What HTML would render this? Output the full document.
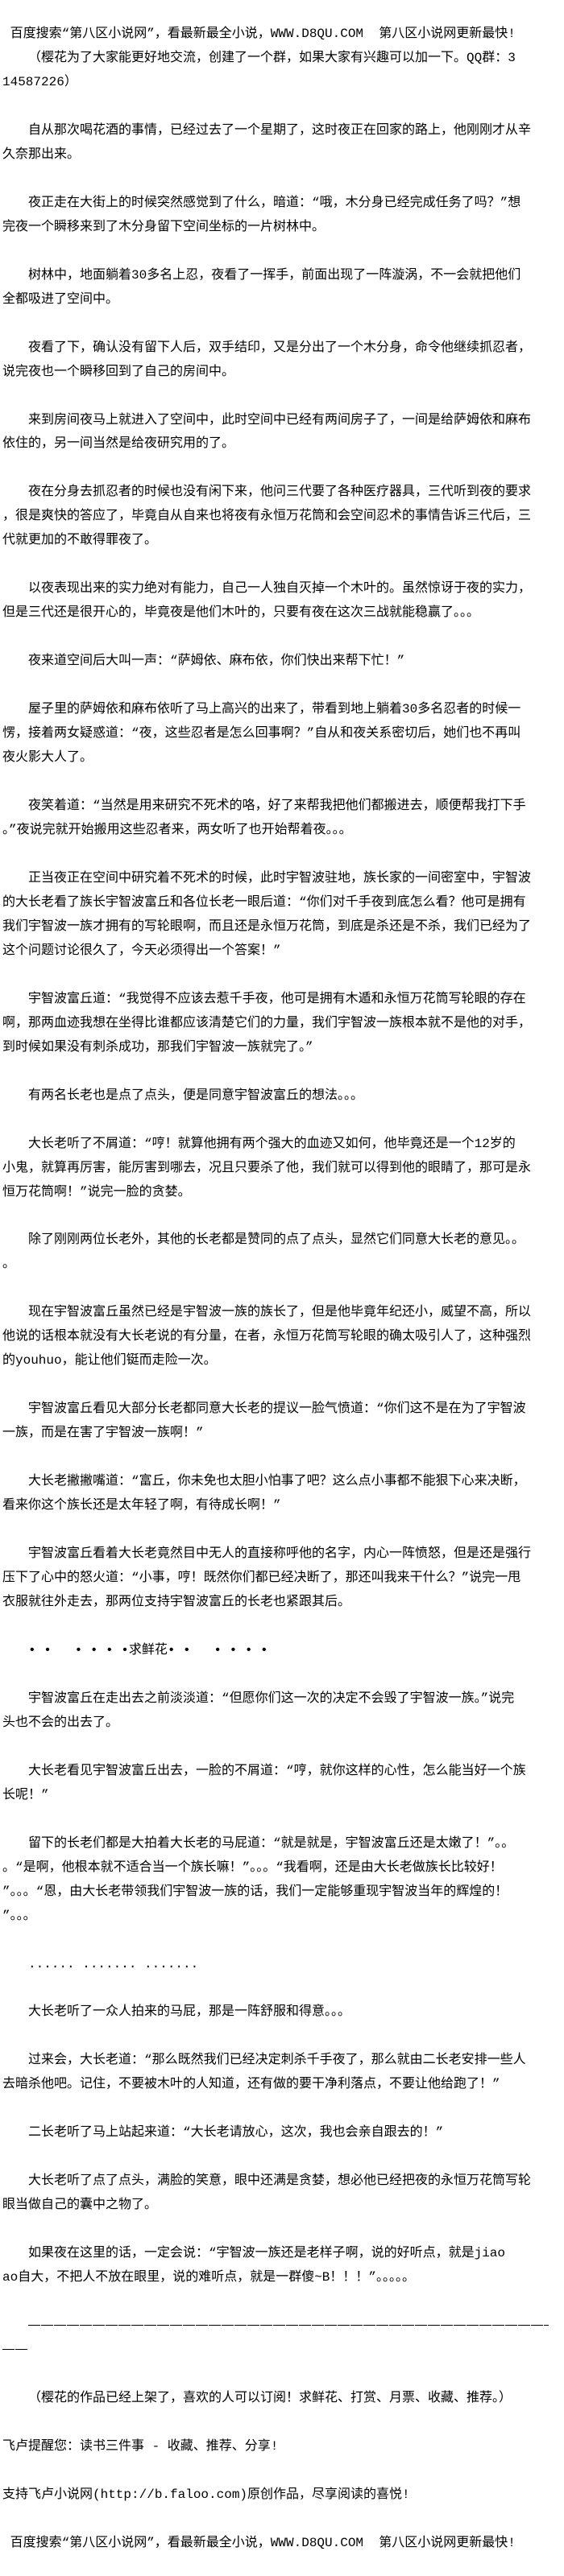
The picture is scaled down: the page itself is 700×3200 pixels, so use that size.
<!DOCTYPE html>
<html><head><meta charset="utf-8">
<style>
html,body{margin:0;padding:0;background:#fff;}
body{width:700px;height:3200px;overflow:hidden;}
#t{position:absolute;left:3px;top:28px;font-family:"Liberation Mono","Noto Sans CJK SC",monospace;font-size:16px;line-height:29.97px;color:#000;white-space:nowrap;}
.i{padding-left:32px;}
.d{display:inline-block;width:646px;height:1px;vertical-align:middle;background:repeating-linear-gradient(90deg,#000 0 15px,transparent 15px 16px);}
.d2{display:inline-block;width:32px;height:1px;vertical-align:middle;background:repeating-linear-gradient(90deg,#000 0 15px,transparent 15px 16px);}
</style></head><body>
<div id="t">
<div>&nbsp;百度搜索“第八区小说网”，看最新最全小说，WWW.D8QU.COM&nbsp;&nbsp;第八区小说网更新最快!</div>
<div class="i">（樱花为了大家能更好地交流，创建了一个群，如果大家有兴趣可以加一下。QQ群：3</div>
<div>14587226）</div>
<div>&nbsp;</div>
<div class="i">自从那次喝花酒的事情，已经过去了一个星期了，这时夜正在回家的路上，他刚刚才从辛</div>
<div>久奈那出来。</div>
<div>&nbsp;</div>
<div class="i">夜正走在大街上的时候突然感觉到了什么，暗道：“哦，木分身已经完成任务了吗？”想</div>
<div>完夜一个瞬移来到了木分身留下空间坐标的一片树林中。</div>
<div>&nbsp;</div>
<div class="i">树林中，地面躺着30多名上忍，夜看了一挥手，前面出现了一阵漩涡，不一会就把他们</div>
<div>全都吸进了空间中。</div>
<div>&nbsp;</div>
<div class="i">夜看了下，确认没有留下人后，双手结印，又是分出了一个木分身，命令他继续抓忍者，</div>
<div>说完夜也一个瞬移回到了自己的房间中。</div>
<div>&nbsp;</div>
<div class="i">来到房间夜马上就进入了空间中，此时空间中已经有两间房子了，一间是给萨姆依和麻布</div>
<div>依住的，另一间当然是给夜研究用的了。</div>
<div>&nbsp;</div>
<div class="i">夜在分身去抓忍者的时候也没有闲下来，他问三代要了各种医疗器具，三代听到夜的要求</div>
<div>，很是爽快的答应了，毕竟自从自来也将夜有永恒万花筒和会空间忍术的事情告诉三代后，三</div>
<div>代就更加的不敢得罪夜了。</div>
<div>&nbsp;</div>
<div class="i">以夜表现出来的实力绝对有能力，自己一人独自灭掉一个木叶的。虽然惊讶于夜的实力，</div>
<div>但是三代还是很开心的，毕竟夜是他们木叶的，只要有夜在这次三战就能稳赢了。。。</div>
<div>&nbsp;</div>
<div class="i">夜来道空间后大叫一声：“萨姆依、麻布依，你们快出来帮下忙！”</div>
<div>&nbsp;</div>
<div class="i">屋子里的萨姆依和麻布依听了马上高兴的出来了，带看到地上躺着30多名忍者的时候一</div>
<div>愣，接着两女疑惑道：“夜，这些忍者是怎么回事啊？”自从和夜关系密切后，她们也不再叫</div>
<div>夜火影大人了。</div>
<div>&nbsp;</div>
<div class="i">夜笑着道：“当然是用来研究不死术的咯，好了来帮我把他们都搬进去，顺便帮我打下手</div>
<div>。”夜说完就开始搬用这些忍者来，两女听了也开始帮着夜。。。</div>
<div>&nbsp;</div>
<div class="i">正当夜正在空间中研究着不死术的时候，此时宇智波驻地，族长家的一间密室中，宇智波</div>
<div>的大长老看了族长宇智波富丘和各位长老一眼后道：“你们对千手夜到底怎么看？他可是拥有</div>
<div>我们宇智波一族才拥有的写轮眼啊，而且还是永恒万花筒，到底是杀还是不杀，我们已经为了</div>
<div>这个问题讨论很久了，今天必须得出一个答案！”</div>
<div>&nbsp;</div>
<div class="i">宇智波富丘道：“我觉得不应该去惹千手夜，他可是拥有木遁和永恒万花筒写轮眼的存在</div>
<div>啊，那两血迹我想在坐得比谁都应该清楚它们的力量，我们宇智波一族根本就不是他的对手，</div>
<div>到时候如果没有刺杀成功，那我们宇智波一族就完了。”</div>
<div>&nbsp;</div>
<div class="i">有两名长老也是点了点头，便是同意宇智波富丘的想法。。。</div>
<div>&nbsp;</div>
<div class="i">大长老听了不屑道：“哼！就算他拥有两个强大的血迹又如何，他毕竟还是一个12岁的</div>
<div>小鬼，就算再厉害，能厉害到哪去，况且只要杀了他，我们就可以得到他的眼睛了，那可是永</div>
<div>恒万花筒啊！”说完一脸的贪婪。</div>
<div>&nbsp;</div>
<div class="i">除了刚刚两位长老外，其他的长老都是赞同的点了点头，显然它们同意大长老的意见。。</div>
<div>。</div>
<div>&nbsp;</div>
<div class="i">现在宇智波富丘虽然已经是宇智波一族的族长了，但是他毕竟年纪还小，威望不高，所以</div>
<div>他说的话根本就没有大长老说的有分量，在者，永恒万花筒写轮眼的确太吸引人了，这种强烈</div>
<div>的youhuo，能让他们铤而走险一次。</div>
<div>&nbsp;</div>
<div class="i">宇智波富丘看见大部分长老都同意大长老的提议一脸气愤道：“你们这不是在为了宇智波</div>
<div>一族，而是在害了宇智波一族啊！”</div>
<div>&nbsp;</div>
<div class="i">大长老撇撇嘴道：“富丘，你未免也太胆小怕事了吧？这么点小事都不能狠下心来决断，</div>
<div>看来你这个族长还是太年轻了啊，有待成长啊！”</div>
<div>&nbsp;</div>
<div class="i">宇智波富丘看着大长老竟然目中无人的直接称呼他的名字，内心一阵愤怒，但是还是强行</div>
<div>压下了心中的怒火道：“小事，哼！既然你们都已经决断了，那还叫我来干什么？”说完一甩</div>
<div>衣服就往外走去，那两位支持宇智波富丘的长老也紧跟其后。</div>
<div>&nbsp;</div>
<div class="i">•&nbsp;•&nbsp;&nbsp;&nbsp;•&nbsp;•&nbsp;•&nbsp;•求鲜花•&nbsp;•&nbsp;&nbsp;&nbsp;•&nbsp;•&nbsp;•&nbsp;•</div>
<div>&nbsp;</div>
<div class="i">宇智波富丘在走出去之前淡淡道：“但愿你们这一次的决定不会毁了宇智波一族。”说完</div>
<div>头也不会的出去了。</div>
<div>&nbsp;</div>
<div class="i">大长老看见宇智波富丘出去，一脸的不屑道：“哼，就你这样的心性，怎么能当好一个族</div>
<div>长呢！”</div>
<div>&nbsp;</div>
<div class="i">留下的长老们都是大拍着大长老的马屁道：“就是就是，宇智波富丘还是太嫩了！”。。</div>
<div>。“是啊，他根本就不适合当一个族长嘛！”。。。“我看啊，还是由大长老做族长比较好！</div>
<div>”。。。“恩，由大长老带领我们宇智波一族的话，我们一定能够重现宇智波当年的辉煌的！</div>
<div>”。。。</div>
<div>&nbsp;</div>
<div class="i">......&nbsp;.......&nbsp;.......</div>
<div>&nbsp;</div>
<div class="i">大长老听了一众人拍来的马屁，那是一阵舒服和得意。。。</div>
<div>&nbsp;</div>
<div class="i">过来会，大长老道：“那么既然我们已经决定刺杀千手夜了，那么就由二长老安排一些人</div>
<div>去暗杀他吧。记住，不要被木叶的人知道，还有做的要干净利落点，不要让他给跑了！”</div>
<div>&nbsp;</div>
<div class="i">二长老听了马上站起来道：“大长老请放心，这次，我也会亲自跟去的！”</div>
<div>&nbsp;</div>
<div class="i">大长老听了点了点头，满脸的笑意，眼中还满是贪婪，想必他已经把夜的永恒万花筒写轮</div>
<div>眼当做自己的囊中之物了。</div>
<div>&nbsp;</div>
<div class="i">如果夜在这里的话，一定会说：“宇智波一族还是老样子啊，说的好听点，就是jiao</div>
<div>ao自大，不把人不放在眼里，说的难听点，就是一群傻~B！！！”。。。。。</div>
<div>&nbsp;</div>
<div class="i"><span class="d"></span></div>
<div><span class="d2"></span></div>
<div>&nbsp;</div>
<div class="i">（樱花的作品已经上架了，喜欢的人可以订阅！求鲜花、打赏、月票、收藏、推荐。）</div>
<div>&nbsp;</div>
<div>飞卢提醒您：读书三件事 - 收藏、推荐、分享!</div>
<div>&nbsp;</div>
<div>支持飞卢小说网(http://b.faloo.com)原创作品，尽享阅读的喜悦!</div>
<div>&nbsp;</div>
<div>&nbsp;百度搜索“第八区小说网”，看最新最全小说，WWW.D8QU.COM&nbsp;&nbsp;第八区小说网更新最快!</div>
</div>
</body></html>
